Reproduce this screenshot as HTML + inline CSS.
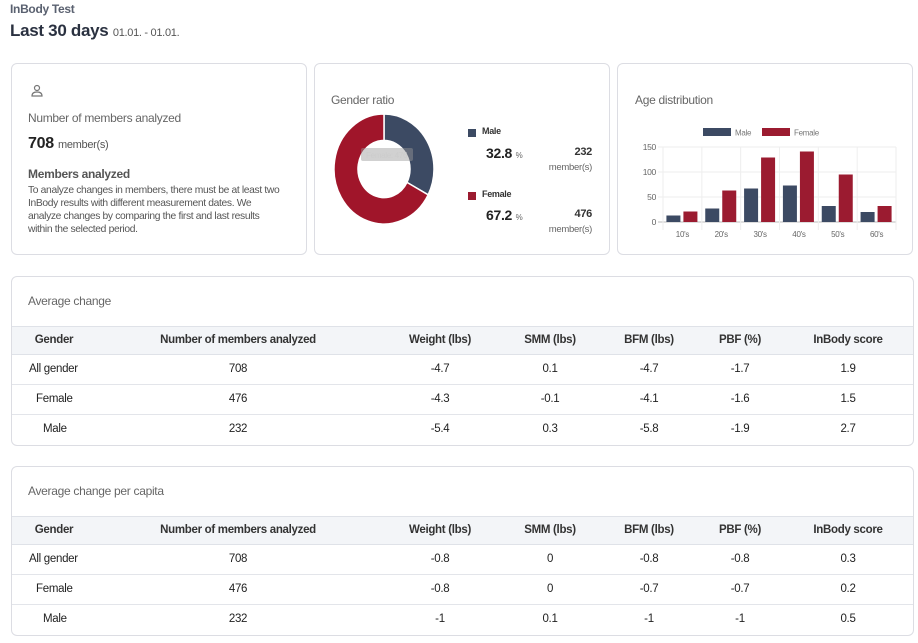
<!DOCTYPE html>
<html><head><meta charset="utf-8">
<style>
*{box-sizing:border-box;margin:0;padding:0}
body{width:918px;height:643px;background:#fff;font-family:"Liberation Sans",sans-serif;color:#333;position:relative;overflow:hidden;letter-spacing:-0.3px}
.abs{position:absolute}
.card{position:absolute;border:1px solid #dcdde3;border-radius:6px;background:#fff}
.t{position:absolute;white-space:nowrap}
.tbl{position:absolute;left:0;width:100%}
.hdr{position:absolute;left:0;right:0;background:#f3f5f8;border-top:1px solid #dfe2e8;border-bottom:1px solid #dfe2e8}
.row{position:absolute;left:0;right:0;border-bottom:1px solid #e3e5ea}
.c{position:absolute;top:0;transform:translateX(-50%);font-size:11.5px;color:#222;white-space:nowrap}
</style></head><body>
<div class="t" style="left:10px;top:2px;font-size:12px;color:#5a6170;font-weight:bold">InBody Test</div>
<div class="t" style="left:10px;top:21px;font-size:17px;font-weight:bold;color:#2a3140">Last 30 days <span style="font-size:11px;font-weight:normal;color:#555">01.01. - 01.01.</span></div>

<div class="card" style="left:11px;top:63px;width:296px;height:192px">
  <svg class="abs" style="left:18px;top:20px" width="14" height="14" viewBox="0 0 14 14"><circle cx="7" cy="4" r="2.5" fill="none" stroke="#777" stroke-width="1.2"/><path d="M2 12 Q2 8 7 8 Q12 8 12 12 Z" fill="none" stroke="#777" stroke-width="1.2"/></svg>
  <div class="t" style="left:16px;top:47px;font-size:12px;color:#666">Number of members analyzed</div>
  <div class="t" style="left:16px;top:71px;font-size:16px;color:#222;font-weight:bold">708 <span style="font-size:11px;font-weight:normal;color:#555">member(s)</span></div>
  <div class="t" style="left:16px;top:103px;font-size:12px;font-weight:bold;color:#555">Members analyzed</div>
  <div class="abs" style="left:16px;top:120px;width:258px;font-size:10.3px;line-height:13px;color:#555;letter-spacing:-0.35px">To analyze changes in members, there must be at least two InBody results with different measurement dates. We analyze changes by comparing the first and last results within the selected period.</div>
</div>

<div class="card" style="left:314px;top:63px;width:296px;height:192px">
  <div class="t" style="left:16px;top:29px;font-size:12px;color:#666">Gender ratio</div>
  <svg id="donut" class="abs" style="left:17px;top:49px" width="104" height="112"></svg>
  <div class="abs" style="left:153px;top:65px;width:8px;height:8px;background:#3c4a63"></div>
  <div class="t" style="left:167px;top:62px;font-size:9px;font-weight:bold">Male</div>
  <div class="t" style="left:171px;top:81px;font-size:14px;font-weight:bold;color:#222">32.8 <span style="font-size:8px;color:#666;font-weight:normal">%</span></div>
  <div class="t" style="right:17px;top:82px;font-size:11px;font-weight:bold;text-align:right">232</div>
  <div class="t" style="right:17px;top:98px;font-size:9.5px;color:#666">member(s)</div>
  <div class="abs" style="left:153px;top:128px;width:8px;height:8px;background:#9b1b30"></div>
  <div class="t" style="left:167px;top:125px;font-size:9px;font-weight:bold">Female</div>
  <div class="t" style="left:171px;top:143px;font-size:14px;font-weight:bold;color:#222">67.2 <span style="font-size:8px;color:#666;font-weight:normal">%</span></div>
  <div class="t" style="right:17px;top:144px;font-size:11px;font-weight:bold">476</div>
  <div class="t" style="right:17px;top:160px;font-size:9.5px;color:#666">member(s)</div>
</div>

<div class="card" style="left:617px;top:63px;width:296px;height:192px">
  <div class="t" style="left:17px;top:29px;font-size:12px;color:#666">Age distribution</div>
  <svg id="age" class="abs" style="left:-1px;top:-1px" width="296" height="192"></svg>
</div>

<div class="card" style="left:11px;top:276px;width:903px;height:170px;overflow:hidden">
  <div class="t" style="left:16px;top:17px;font-size:12px;color:#666">Average change</div>
  <div id="t1" class="tbl" style="top:49px"></div>
</div>
<div class="card" style="left:11px;top:466px;width:903px;height:170px;overflow:hidden">
  <div class="t" style="left:16px;top:17px;font-size:12px;color:#666">Average change per capita</div>
  <div id="t2" class="tbl" style="top:49px"></div>
</div>

<script>
const NS='http://www.w3.org/2000/svg';
function mk(p,tag,at){const e=document.createElementNS(NS,tag);for(const k in at)e.setAttribute(k,at[k]);p.appendChild(e);return e;}

// donut data
const genderLabels=['Male','Female'];
const genderValues=[232,476];
const genderColors=['#3c4a63','#a0152a'];
(function(){
  const s=document.getElementById('donut');const cx=52,cy=56,R=50,r=26,ry=1.1;
  const tot=genderValues.reduce((a,b)=>a+b,0);let a0=-Math.PI/2;
  genderValues.forEach((v,i)=>{
    const a1=a0+v/tot*2*Math.PI;const lg=(a1-a0)>Math.PI?1:0;
    const p=(rr,a)=>[cx+rr*Math.cos(a),cy+rr*ry*Math.sin(a)];
    const [x0,y0]=p(R,a0),[x1,y1]=p(R,a1),[x2,y2]=p(r,a1),[x3,y3]=p(r,a0);
    const path=mk(s,'path',{d:`M${x0},${y0}A${R},${R*ry} 0 ${lg} 1 ${x1},${y1}L${x2},${y2}A${r},${r*ry} 0 ${lg} 0 ${x3},${y3}Z`,fill:genderColors[i],stroke:'#fff','stroke-width':1.5});
    
    
    a0=a1;
  });
  const tip=mk(s,'rect',{x:29,y:35,width:52,height:13,fill:'#999','fill-opacity':0.45,rx:2});
  
  
  const tt=mk(s,'text',{x:34,y:45,'font-size':8,fill:'#ccc'});tt.textContent='Female: 476';
  
  
})();

// age chart data
const ageCats=["10's","20's","30's","40's","50's","60's"];
const maleAges=[13,27,67,73,32,20];
const femaleAges=[21,63,129,141,95,32];
const ageTicks=[0,50,100,150];
(function(){
  const s=document.getElementById('age');
  const ox=-617,oy=-63;
  const X0=662+ox+1,X1=895+ox+1,Y0=221+oy+1,Y1=146+oy+1;
  const y=v=>Y0+(Y1-Y0)*v/150;const bw=(X1-X0)/ageCats.length;
  ageTicks.forEach(t=>{
    const l=mk(s,'line',{x1:X0-5,x2:X1,y1:y(t),y2:y(t),stroke:t===0?'#ddd':'#eee','stroke-width':t===0?2:1});
    
    const tx=mk(s,'text',{x:X0-7,y:y(t)+3,'font-size':8.5,fill:'#666','text-anchor':'end'});tx.textContent=t;
    
  });
  for(let i=0;i<=ageCats.length;i++){const l=mk(s,'line',{x1:X0+i*bw,x2:X0+i*bw,y1:Y1,y2:Y0+8,stroke:'#eee'});}
  ageCats.forEach((c,i)=>{
    const cx=X0+bw*(i+0.5);
    const bm=mk(s,'rect',{x:cx-16,y:y(maleAges[i]),width:14,height:Y0-y(maleAges[i]),fill:'#3c4a63'});
    
    const bf=mk(s,'rect',{x:cx+1,y:y(femaleAges[i]),width:14,height:Y0-y(femaleAges[i]),fill:'#9b1b30'});
    
    const tx=mk(s,'text',{x:cx,y:Y0+15,'font-size':8,fill:'#666','text-anchor':'middle'});tx.textContent=c;
    
  });
  const lg=[['Male','#3c4a63',86],['Female','#9b1b30',145]];
  lg.forEach(([n,col,lx])=>{
    const r=mk(s,'rect',{x:lx,y:65,width:28,height:8,fill:col});
    const t=mk(s,'text',{x:lx+32,y:72.5,'font-size':8,fill:'#777'});t.textContent=n;
  });
})();

// tables
const cols=['Gender','Number of members analyzed','Weight (lbs)','SMM (lbs)','BFM (lbs)','PBF (%)','InBody score'];
const colX=[42,226,428,538,637,728,836];
const rowNames=['All gender','Female','Male'];
const rowIndent=[17,24,31];
const t1=[['708','-4.7','0.1','-4.7','-1.7','1.9'],['476','-4.3','-0.1','-4.1','-1.6','1.5'],['232','-5.4','0.3','-5.8','-1.9','2.7']];
const t2=[['708','-0.8','0','-0.8','-0.8','0.3'],['476','-0.8','0','-0.7','-0.7','0.2'],['232','-1','0.1','-1','-1','0.5']];
function build(id,data,prefix){
  const h=document.getElementById(id);
  let html='<div class="hdr" style="top:0;height:29px">';
  cols.forEach((c,i)=>{html+='<div class="c" style="left:'+colX[i]+'px;top:7px;font-weight:bold;color:#333">'+c+'</div>';});
  html+='</div>';
  data.forEach((r,j)=>{
    html+='<div class="row" style="top:'+(29+j*30)+'px;height:30px;'+(j==2?'border-bottom:none':'')+'">';
    html+='<div class="c" style="left:'+rowIndent[j]+'px;transform:none;top:8px">'+rowNames[j]+'</div>';
    r.forEach((v,i)=>{html+='<div class="c" style="left:'+colX[i+1]+'px;top:8px">'+v+'</div>';});
    html+='</div>';
  });
  h.innerHTML=html;
}
build('t1',t1,'avg');build('t2',t2,'per-capita');
</script>
</body></html>
